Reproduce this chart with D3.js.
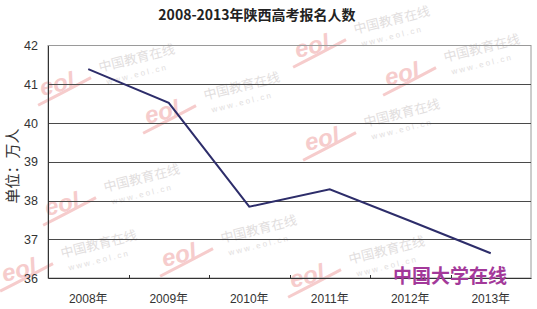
<!DOCTYPE html>
<html><head><meta charset="utf-8">
<script src="https://cdn.jsdelivr.net/npm/d3@7"></script>
<style>
html,body{margin:0;padding:0;background:#fff;}
svg{display:block;}
</style></head>
<body>
<svg id="chart" width="537" height="309"></svg>
<script>
const title = "2008-2013年陕西高考报名人数";
const yAxisLabel = "单位：万人";
const categories = ["2008年","2009年","2010年","2011年","2012年","2013年"];
const values = [41.39, 40.52, 37.84, 38.29, 37.47, 36.64];
const yTicks = [36,37,38,39,40,41,42];
const brandText = "中国大学在线";
// watermark placements (decorative background)
const wmX = [355, 100, 205, 365, 105, 222, 62, 350, 445];
const wmY = [ 34,  72, 100, 127, 192, 243, 258, 264, 62];

const svg = d3.select("#chart");
const W = 537, H = 309;
const margin = {left:48, right:6, top:45.5, bottom:31};
const x = d3.scaleBand().domain(categories).range([margin.left, W - margin.right]).padding(0);
const y = d3.scaleLinear().domain([36,42]).range([H - margin.bottom, margin.top]);

// watermarks
const wm = svg.append("g").attr("class","watermarks");
wmX.forEach((px,i)=>{
  const py = wmY[i];
  const g = wm.append("g").attr("transform",`translate(${px},${py}) rotate(-14)`);
  g.append("text").attr("x",0).attr("y",0).text("中国教育在线")
    .attr("font-family","Noto Sans CJK SC").attr("font-size",13).attr("fill","#e2dede");
  g.append("text").attr("x",4).attr("y",14).text("w w w . e o l . c n")
    .attr("font-family","Liberation Sans").attr("font-size",8).attr("fill","#e2dede");
  const lg = wm.append("g").attr("transform",`translate(${px-58},${py+24}) rotate(-14)`);
  lg.append("text").attr("x",0).attr("y",0).text("eol")
    .attr("font-family","Liberation Sans").attr("font-weight","bold").attr("font-style","italic")
    .attr("font-size",24).attr("fill","#f6cccc");
  lg.append("path").attr("d","M-6,8 Q20,2 52,-6").attr("stroke","#f6cccc").attr("stroke-width",3).attr("fill","none");
});

// plot frame (top/right light border)
svg.append("rect").attr("x",margin.left).attr("y",y(42))
  .attr("width",x.range()[1]-margin.left).attr("height",y(36)-y(42))
  .attr("fill","none").attr("stroke","#9a9a9a").attr("stroke-width",1);

// gridlines
svg.append("g").selectAll("line").data(yTicks.filter(t=>t>36 && t<42)).join("line")
  .attr("x1",margin.left).attr("x2",x.range()[1])
  .attr("y1",d=>Math.round(y(d))+0.5).attr("y2",d=>Math.round(y(d))+0.5)
  .attr("stroke","#4a4a4a").attr("stroke-width",1);

// y axis
const yAxis = svg.append("g").attr("transform",`translate(${margin.left},0)`)
  .call(d3.axisLeft(y).tickValues(yTicks).tickSize(0).tickPadding(10).tickFormat(d3.format("d")));
yAxis.select(".domain").attr("stroke","#333");
yAxis.selectAll("text").attr("font-family","Liberation Sans, Arial").attr("font-size",12.5).attr("fill","#333");

// x axis
const xAxis = svg.append("g").attr("transform",`translate(0,${y(36)})`)
  .call(d3.axisBottom(x).tickSize(0).tickPadding(16));
xAxis.select(".domain").attr("stroke","#333");
xAxis.selectAll("text").attr("font-family","Liberation Sans, Noto Sans CJK SC").attr("font-size",12).attr("fill","#333");
// category boundary ticks
svg.append("g").selectAll("line").data(categories.slice(1)).join("line")
  .attr("x1",d=>Math.round(x(d))+0.5).attr("x2",d=>Math.round(x(d))+0.5)
  .attr("y1",y(36)-3).attr("y2",y(36))
  .attr("stroke","#333");

// line
const line = d3.line().x((d,i)=>x(categories[i])+x.bandwidth()/2).y(d=>y(d));
svg.append("path").datum(values).attr("d",line)
  .attr("fill","none").attr("stroke","#2d2d6a").attr("stroke-width",2).attr("stroke-linejoin","miter");

// title
svg.append("text").attr("x",257).attr("y",20).attr("text-anchor","middle")
  .attr("font-family","Noto Sans CJK SC").attr("font-weight","bold").attr("font-size",14).attr("fill","#222")
  .text(title);

// y label
svg.append("text").attr("transform","translate(18,166) rotate(-90)").attr("text-anchor","middle")
  .attr("font-family","Noto Sans CJK SC").attr("font-size",15).attr("fill","#333")
  .text(yAxisLabel);

// brand
svg.append("text").attr("x",450).attr("y",283).attr("text-anchor","middle")
  .attr("font-family","Noto Sans CJK SC").attr("font-weight","bold").attr("font-size",19).attr("fill","#a3399a")
  .text(brandText);
</script>
</body></html>
